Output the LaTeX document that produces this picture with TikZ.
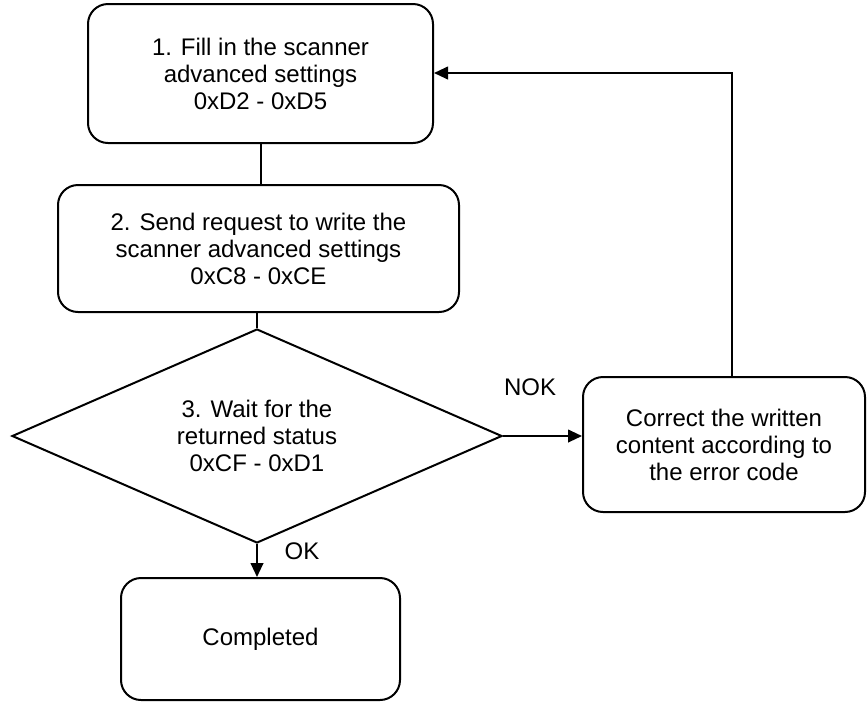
\documentclass[tikz,border=0pt]{standalone}
\usepackage{fontspec}
\setmainfont{Liberation Sans}
\usetikzlibrary{shapes.geometric,arrows.meta}
\begin{document}
\begin{tikzpicture}[x=0.75pt,y=-0.75pt,
  every node/.style={font=\fontsize{18}{20.25}\selectfont},
  box/.style={draw,line width=1.5pt,rounded corners=15pt,align=center,inner sep=0pt},
  decision/.style={draw,line width=1.5pt,diamond,align=center,inner sep=0pt,shape aspect=2.29},
  conn/.style={line width=1.5pt},
  arr/.style={line width=1.5pt,-{Triangle[length=10.5pt,width=9.5pt]}},
  lbl/.style={inner sep=0pt}]
\useasboundingbox (0,0) rectangle (867,701);
\node[box,minimum width=345*0.75pt,minimum height=139*0.75pt] (b1) at (260.5,73.5)
  {1. Fill in the scanner\\advanced settings\\0xD2 - 0xD5};
\node[box,minimum width=401*0.75pt,minimum height=127*0.75pt] (b2) at (258.5,248.5)
  {2. Send request to write the\\scanner advanced settings\\0xC8 - 0xCE};
\node[decision,minimum width=490*0.75pt,minimum height=214*0.75pt] (d) at (257,436)
  {3. Wait for the\\returned status\\0xCF - 0xD1};
\node[box,minimum width=279*0.75pt,minimum height=122*0.75pt] (b3) at (260.5,639)
  {Completed};
\node[box,minimum width=282*0.75pt,minimum height=135*0.75pt] (b4) at (724,444.5)
  {Correct the written\\content according to\\the error code};
\coordinate (up) at (732,377);
\coordinate (corner) at (732,73);
\draw[conn] (b1.south -| 261,0) -- (b2.north -| 261,0);
\draw[conn] (b2.south -| d.north) -- (d.north);
\draw[arr] (d.south) -- (b3.north -| d.south);
\draw[arr] (d.east) -- (d.east -| b4.west);
\draw[arr] (up) -- (corner) -- (corner -| b1.east);
\node[lbl] (nok) at (530,387) {NOK};
\node[lbl] (ok) at (302,551) {OK};
\end{tikzpicture}
\end{document}
